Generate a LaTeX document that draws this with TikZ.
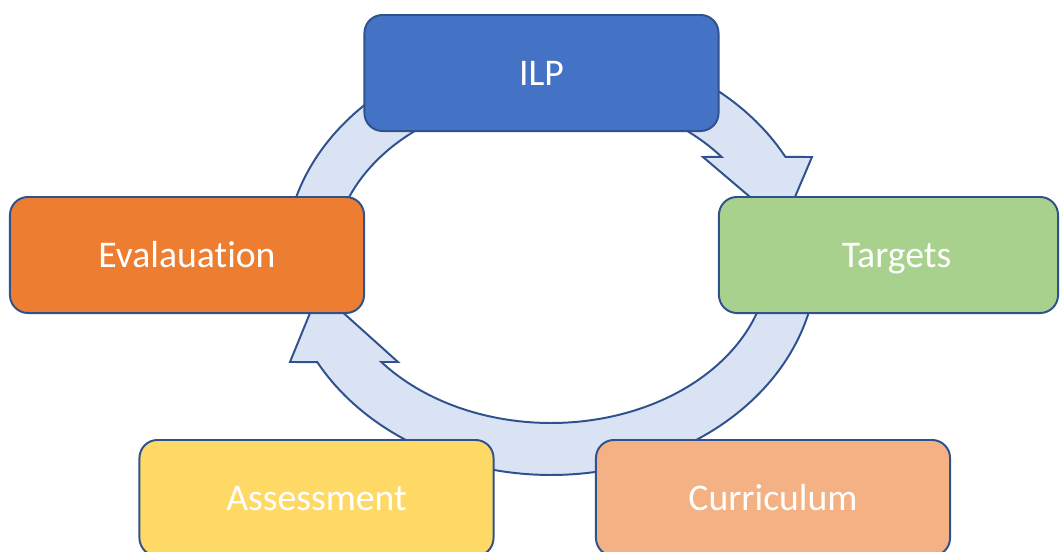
\documentclass[tikz,border=0pt]{standalone}
\usepackage{fontspec}
\setmainfont{Carlito}[Ligatures=NoCommon]
\definecolor{edge}{HTML}{2F528F}
\definecolor{ring}{HTML}{DAE3F3}
\definecolor{ilpblue}{HTML}{4472C4}
\definecolor{tgtgreen}{HTML}{A9D18E}
\definecolor{evalorange}{HTML}{ED7D31}
\definecolor{assyellow}{HTML}{FFD966}
\definecolor{curpeach}{HTML}{F4B183}
\tikzset{
  stage/.style={draw=edge, line width=1.4pt, rounded corners=0.45cm, text=white,
    minimum width=8.85cm, minimum height=2.9cm, inner sep=0pt,
    text height=17.3pt, text depth=0pt,
    font=\fontsize{26.8}{31}\selectfont},
  band/.style={draw=edge, fill=ring, line width=1.4pt, line join=miter}
}
\begin{document}
\begin{tikzpicture}[x=0.025cm, y=-0.025cm]

\useasboundingbox (0,0) rectangle (1061,552);
\clip (0,0) rectangle (1061,552);

% ring, upper half with arrow into Targets
\draw[band] plot[domain=180:28.2, samples=80] ({551+266*cos(\x)}, {259-216*sin(\x)})
  -- (812,157) -- (783,225) -- (703,157)
  -- plot[domain=38.5:180, samples=80] ({551+218*cos(\x)}, {259-164*sin(\x)}) -- cycle;

% ring, lower half with arrow into Evalauation
\draw[band] plot[domain=0:-151.5, samples=100] ({551+266*cos(\x)}, {259-216*sin(\x)})
  -- (290,362) -- (319,291) -- (398,362)
  -- plot[domain=-141.1:0, samples=100] ({551+218*cos(\x)}, {259-164*sin(\x)}) -- cycle;

\node[stage, fill=ilpblue] (ilp) at (541.5,73) {ILP};
\node[stage, fill=tgtgreen, minimum width=8.475cm] (targets) at (888.5,255) {\kern0.4cm Targets};
\node[stage, fill=evalorange] (evaluation) at (187,255) {Evalauation};
\node[stage, fill=assyellow] (assessment) at (316.5,498) {Assessment};
\node[stage, fill=curpeach] (curriculum) at (773,498) {Curriculum};

\end{tikzpicture}
\end{document}
